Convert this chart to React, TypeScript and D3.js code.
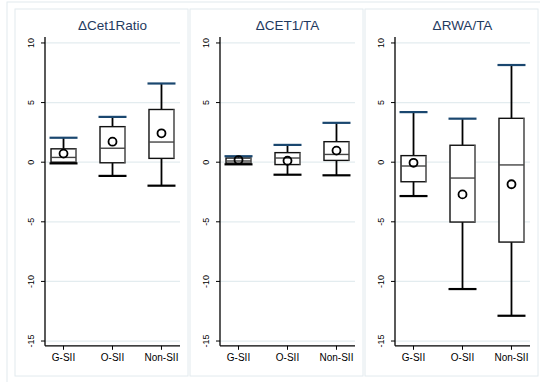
import React from "react";
import * as d3 from "d3";

const groups = ["G-SII", "O-SII", "Non-SII"];
const titles = ["\u0394Cet1Ratio", "\u0394CET1/TA", "\u0394RWA/TA"];
const yTicks = [10, 5, 0, -5, -10, -15];

// ΔCet1Ratio
const ratioLow = [-0.1, -1.15, -1.97];
const ratioQ1 = [0.0, -0.05, 0.32];
const ratioMed = [0.4, 1.17, 1.69];
const ratioQ3 = [1.12, 2.98, 4.42];
const ratioHigh = [2.05, 3.8, 6.6];
const ratioMean = [0.72, 1.72, 2.42];

// ΔCET1/TA
const taLow = [-0.18, -1.05, -1.1];
const taQ1 = [-0.08, -0.2, 0.15];
const taMed = [0.1, 0.35, 0.65];
const taQ3 = [0.35, 0.8, 1.72];
const taHigh = [0.5, 1.45, 3.3];
const taMean = [0.18, 0.12, 0.97];

// ΔRWA/TA
const rwaLow = [-2.84, -10.64, -12.88];
const rwaQ1 = [-1.64, -5.02, -6.7];
const rwaMed = [-0.32, -1.33, -0.23];
const rwaQ3 = [0.55, 1.42, 3.68];
const rwaHigh = [4.2, 3.65, 8.15];
const rwaMean = [-0.05, -2.7, -1.85];

const panels = [
  { title: titles[0], low: ratioLow, q1: ratioQ1, med: ratioMed, q3: ratioQ3, high: ratioHigh, mean: ratioMean },
  { title: titles[1], low: taLow, q1: taQ1, med: taMed, q3: taQ3, high: taHigh, mean: taMean },
  { title: titles[2], low: rwaLow, q1: rwaQ1, med: rwaMed, q3: rwaQ3, high: rwaHigh, mean: rwaMean },
];

const FONT = "Liberation Sans, Arial, sans-serif";
const NAVY = "#1a476f";
const FRAME = "#e2eaee";
const GRID = "#e3ecef";

export default function App() {
  const W = 540;
  const H = 382;
  const y = d3.scaleLinear().domain([-15.4, 10.5]).range([345.8, 37]);
  const panelStep = 175;
  const boxW = 25;
  const capW = 28;

  return (
    <svg
      width={W}
      height={H}
      style={{ position: "absolute", left: 0, top: 0, background: "#fff" }}
      fontFamily={FONT}
    >
      <rect x={7} y={2} width={560} height={400} fill="#fff" stroke={FRAME} strokeWidth={1} />
      {panels.map((p, pi) => {
        const ox = pi * panelStep;
        const axisX = 45 + ox;
        const x = d3.scalePoint<string>().domain(groups).range([axisX, axisX + 135]).padding(0.378);
        return (
          <g key={pi}>
            <rect x={15 + ox} y={9} width={173} height={367} fill="#fff" stroke={FRAME} strokeWidth={1} />
            <text
              x={axisX + 67.5}
              y={29.5}
              textAnchor="middle"
              fontSize={13.5}
              fill="#1f3a60"
            >
              {p.title}
            </text>
            {yTicks.map((t) => (
              <g key={t}>
                <line x1={axisX} x2={axisX + 135} y1={y(t)} y2={y(t)} stroke={GRID} strokeWidth={1.2} />
                <line x1={axisX - 4} x2={axisX} y1={y(t)} y2={y(t)} stroke="#000" strokeWidth={1} />
                <text
                  transform={`translate(${axisX - 11},${y(t)}) rotate(-90)`}
                  textAnchor="middle"
                  fontSize={9}
                  fill="#000"
                >
                  {t}
                </text>
              </g>
            ))}
            <line x1={axisX} x2={axisX} y1={y(10.5)} y2={y(-15.4)} stroke="#000" strokeWidth={1.3} />
            <line x1={axisX} x2={axisX + 135} y1={y(-15.4)} y2={y(-15.4)} stroke="#000" strokeWidth={1.3} />
            {groups.map((g) => (
              <g key={g}>
                <line x1={x(g)} x2={x(g)} y1={y(-15.4)} y2={y(-15.4) + 4} stroke="#000" strokeWidth={1} />
                <text x={x(g)} y={y(-15.4) + 15} textAnchor="middle" fontSize={10} fill="#000">
                  {g}
                </text>
              </g>
            ))}
            {groups.map((g, i) => {
              const cx = x(g) as number;
              return (
                <g key={"b" + g}>
                  <line x1={cx} x2={cx} y1={y(p.high[i])} y2={y(p.q3[i])} stroke="#000" strokeWidth={1.8} />
                  <line x1={cx} x2={cx} y1={y(p.q1[i])} y2={y(p.low[i])} stroke="#000" strokeWidth={1.8} />
                  <rect
                    x={cx - boxW / 2}
                    y={y(p.q3[i])}
                    width={boxW}
                    height={y(p.q1[i]) - y(p.q3[i])}
                    fill="#fff"
                    stroke="#111"
                    strokeWidth={1.4}
                  />
                  <line
                    x1={cx + boxW / 2}
                    x2={cx + boxW / 2}
                    y1={y(p.q3[i])}
                    y2={y(p.q1[i])}
                    stroke="#888"
                    strokeWidth={1.2}
                  />
                  <line
                    x1={cx - boxW / 2}
                    x2={cx + boxW / 2}
                    y1={y(p.med[i])}
                    y2={y(p.med[i])}
                    stroke="#444"
                    strokeWidth={1.4}
                  />
                  <line
                    x1={cx - capW / 2}
                    x2={cx + capW / 2}
                    y1={y(p.low[i])}
                    y2={y(p.low[i])}
                    stroke="#000"
                    strokeWidth={2.2}
                  />
                  <line
                    x1={cx - capW / 2}
                    x2={cx + capW / 2}
                    y1={y(p.high[i])}
                    y2={y(p.high[i])}
                    stroke={NAVY}
                    strokeWidth={2.2}
                  />
                  <circle cx={cx} cy={y(p.mean[i])} r={4} fill="none" stroke="#000" strokeWidth={1.8} />
                </g>
              );
            })}
          </g>
        );
      })}
    </svg>
  );
}
